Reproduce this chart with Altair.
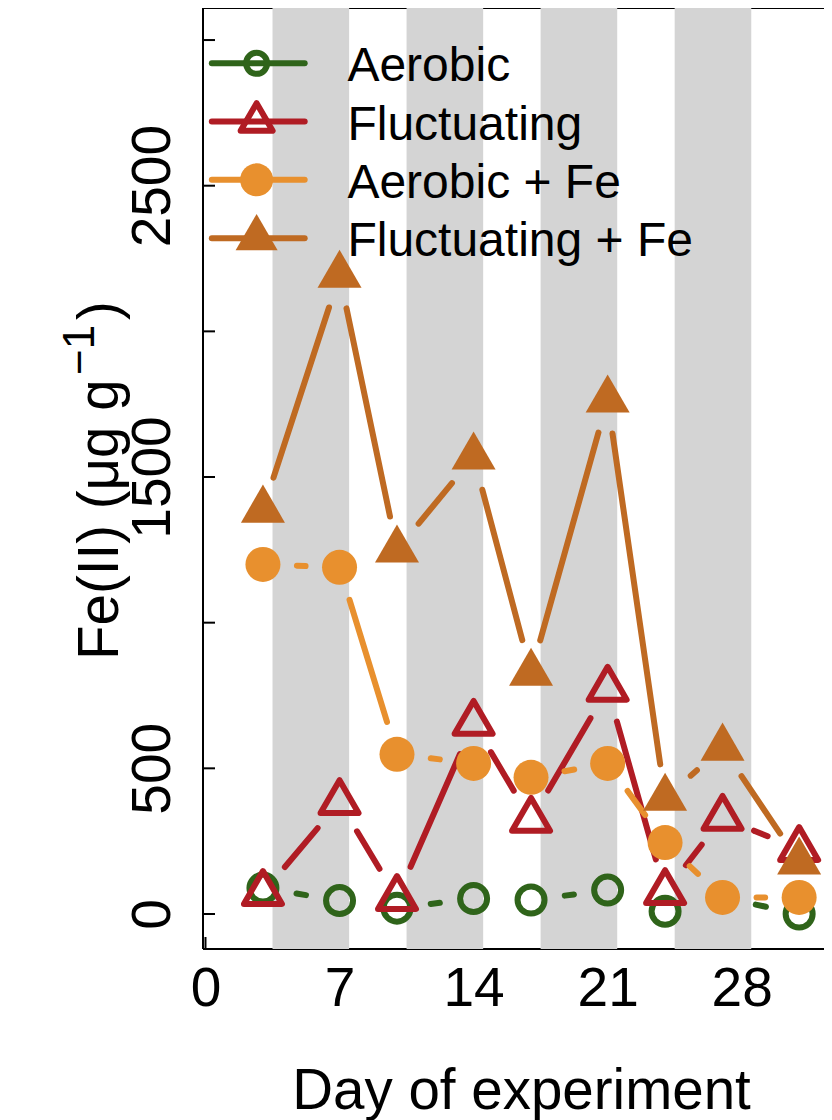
import math
import altair as alt
import pandas as pd

# ---------------- data ----------------
days = [3, 7, 10, 14, 17, 21, 24, 27, 31]
aerobic = [89, 46, 20, 53, 48, 82, 9, 57, 0]
fluctuating = [72, 384, 55, 656, 323, 773, 75, 330, 223]
aerobic_fe = [1200, 1190, 548, 517, 469, 517, 245, 57, 57]
fluctuating_fe = [1387, 2193, 1250, 1569, 827, 1765, 398, 570, 179]

series_names = ["Aerobic", "Fluctuating", "Aerobic + Fe", "Fluctuating + Fe"]
series_values = [aerobic, fluctuating, aerobic_fe, fluctuating_fe]
series_colors = ["#2f641a", "#b01c24", "#e8902e", "#bf6a22"]
series_shapes = ["circle", "triangle", "circle", "triangle"]
series_filled = [False, False, True, True]

band_start = [3.5, 10.5, 17.5, 24.5]
band_end = [7.5, 14.5, 21.5, 28.5]

x_tick_values = [0, 7, 14, 21, 28]
y_tick_values = [0, 500, 1000, 1500, 2000, 2500, 3000]
y_label_values = [0, 500, 1500, 2500]

legend_rows = [2920, 2720, 2520, 2320]

x_title = "Day of experiment"
y_title_main = "Fe(II) (\u03bcg g"
y_title_sup = "\u22121"
y_title_end = ")"

# ---------------- layout ----------------
PXD_TARGET = 19.15
W, H = 621, 941
PAD_LEFT, PAD_BOTTOM = 195, 171
X_DOMAIN = [-0.13, -0.13 + W / PXD_TARGET]
Y_DOMAIN = [-120.2, 3110.0]
FONT = "Liberation Sans"
TRI = "M0,-1L0.866,0.5L-0.866,0.5Z"   # centroid-centred triangle (as in R)
GAP = 34  # px gap around points (R type = "b")
LW = 6

PXD = W / (X_DOMAIN[1] - X_DOMAIN[0])
PXU = H / (Y_DOMAIN[1] - Y_DOMAIN[0])

xscale = alt.Scale(domain=X_DOMAIN, nice=False, zero=False)
yscale = alt.Scale(domain=Y_DOMAIN, nice=False, zero=False)

xaxis = alt.Axis(
    values=x_tick_values, ticks=False, tickSize=0, domain=False, grid=False,
    labelAngle=0, labelAlign="center", labelBaseline="alphabetic",
    labelPadding=56, labelFontSize=55, labelFont=FONT, labelColor="black",
    labelOverlap=False, labelFlush=False, format="d",
    title=x_title, titleX=318, titleY=159, titleAlign="center",
    titleBaseline="alphabetic", titleFontSize=56.5, titleFont=FONT,
    titleFontWeight="normal", titleColor="black",
)
yaxis = alt.Axis(
    values=y_label_values, ticks=False, tickSize=0, domain=False, grid=False,
    labelAngle=270, labelAlign="center", labelBaseline="alphabetic",
    labelPadding=34, labelFontSize=55, labelFont=FONT, labelColor="black",
    labelOverlap=False, labelFlush=False, format="d", title=None,
)


def X(f):
    return alt.X(f"{f}:Q", scale=xscale, axis=xaxis)


def Y(f):
    return alt.Y(f"{f}:Q", scale=yscale, axis=yaxis)


def marker_props(shape, filled, color, legend=False):
    if shape == "circle":
        if filled:
            size = 1089 if legend else 1225
        else:
            size = 441 if legend else 729
        shp = "circle"
    else:
        if filled:
            size = 2352 if legend else 2581
        else:
            size = 1365 if legend else 1925
        shp = TRI
    props = dict(shape=shp, filled=filled, size=size, color=color, opacity=1)
    if not filled:
        props.update(strokeWidth=LW, strokeJoin="round")
    return props


def gapped_segments(xs, ys):
    rows = []
    for i in range(len(xs) - 1):
        dx = (xs[i + 1] - xs[i]) * PXD
        dy = (ys[i + 1] - ys[i]) * PXU
        L = math.hypot(dx, dy)
        if L > 2 * GAP:
            f = GAP / L
            rows.append(dict(
                x=xs[i] + (xs[i + 1] - xs[i]) * f,
                x2=xs[i + 1] - (xs[i + 1] - xs[i]) * f,
                y=ys[i] + (ys[i + 1] - ys[i]) * f,
                y2=ys[i + 1] - (ys[i + 1] - ys[i]) * f,
            ))
    return pd.DataFrame(rows)


one = pd.DataFrame({"k": [0]})
layers = []

# box (left, bottom, top)
layers.append(alt.Chart(one).mark_rule(color="black", strokeWidth=2).encode(
    x=alt.value(0), y=alt.value(0), y2=alt.value(H)))
layers.append(alt.Chart(one).mark_rule(color="black", strokeWidth=2).encode(
    x=alt.value(0), x2=alt.value(W), y=alt.value(H)))
layers.append(alt.Chart(one).mark_rule(color="black", strokeWidth=2).encode(
    x=alt.value(0), x2=alt.value(W), y=alt.value(0)))

# inward ticks
yt = pd.DataFrame({"v": y_tick_values})
layers.append(alt.Chart(yt).mark_rule(color="black", strokeWidth=2).encode(
    y=Y("v"), x=alt.value(0), x2=alt.value(12)))
xt = pd.DataFrame({"v": x_tick_values})
layers.append(alt.Chart(xt).mark_rule(color="black", strokeWidth=2).encode(
    x=X("v"), y=alt.value(H), y2=alt.value(H - 12)))

# grey bands
bands = pd.DataFrame({"start": band_start, "end": band_end})
layers.append(alt.Chart(bands).mark_rect(color="#d4d4d4").encode(
    x=X("start"), x2="end:Q", y=alt.value(0), y2=alt.value(H)))

# series
for name, vals, col, shp, fil in zip(series_names, series_values, series_colors,
                                     series_shapes, series_filled):
    segs = gapped_segments(days, vals)
    layers.append(alt.Chart(segs).mark_rule(
        color=col, strokeWidth=LW, strokeCap="round").encode(
        x=X("x"), x2="x2:Q", y=Y("y"), y2="y2:Q"))
    pts = pd.DataFrame({"day": days, "value": vals})
    layers.append(alt.Chart(pts).mark_point(**marker_props(shp, fil, col)).encode(
        x=X("day"), y=Y("value")))

# legend
for name, row, col, shp, fil in zip(series_names, legend_rows, series_colors,
                                    series_shapes, series_filled):
    ld = pd.DataFrame({"x0": [0.33], "x1": [5.18], "xs": [2.67], "y": [row]})
    layers.append(alt.Chart(ld).mark_rule(color=col, strokeWidth=LW, strokeCap="round").encode(
        x=X("x0"), x2="x1:Q", y=Y("y")))
    layers.append(alt.Chart(ld).mark_point(**marker_props(shp, fil, col, legend=True)).encode(
        x=X("xs"), y=Y("y")))

leg_text = pd.DataFrame({"name": series_names, "y": legend_rows, "xt": [7.41] * 4})
layers.append(alt.Chart(leg_text).mark_text(
    align="left", baseline="alphabetic", dy=18, fontSize=48, font=FONT, color="black").encode(
    x=X("xt"), y=Y("y"), text="name:N"))

# y-axis title (main text, raised superscript, closing bracket)
ttl = pd.DataFrame({"t": [y_title_main]})
layers.append(alt.Chart(ttl).mark_text(
    angle=270, align="left", baseline="alphabetic", fontSize=56.5, font=FONT,
    color="black").encode(x=alt.value(-85), y=alt.value(652), text="t:N"))
sup = pd.DataFrame({"t": [y_title_sup]})
layers.append(alt.Chart(sup).mark_text(
    angle=270, align="left", baseline="alphabetic", fontSize=44, font=FONT,
    color="black").encode(x=alt.value(-109), y=alt.value(367), text="t:N"))
endp = pd.DataFrame({"t": [y_title_end]})
layers.append(alt.Chart(endp).mark_text(
    angle=270, align="left", baseline="alphabetic", fontSize=56.5, font=FONT,
    color="black").encode(x=alt.value(-85), y=alt.value(312), text="t:N"))

chart = alt.layer(*layers).properties(
    width=W, height=H,
    padding={"left": PAD_LEFT, "top": 0, "right": 0, "bottom": PAD_BOTTOM},
    autosize=alt.AutoSizeParams(type="none"),
    background="white",
).configure_view(stroke=None)

chart.save("out.html", embed_options={"renderer": "svg", "actions": False})
